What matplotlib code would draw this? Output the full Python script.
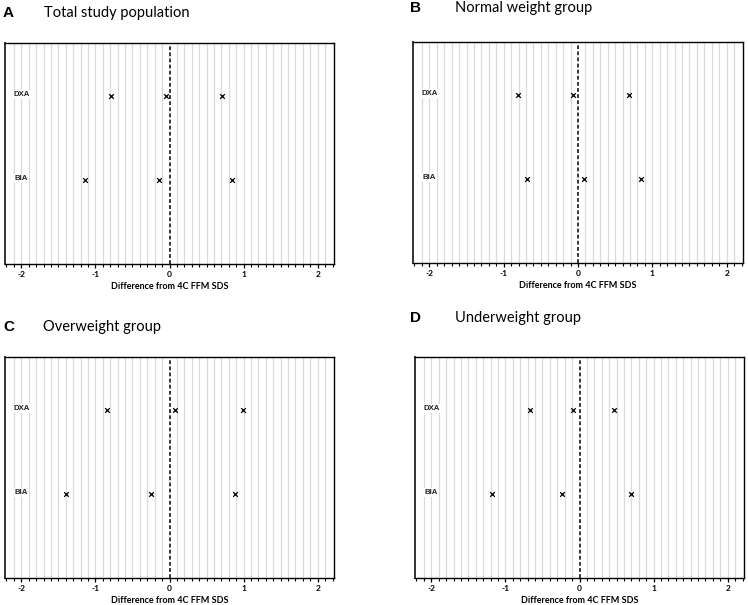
import matplotlib
matplotlib.use("Agg")
import matplotlib.pyplot as plt
import numpy as np

letters = ["A", "B", "C", "D"]
titles = ["Total study population", "Normal weight group", "Overweight group", "Underweight group"]
methods = ["DXA", "BIA"]
dxa_values = [[-0.79, -0.045, 0.71], [-0.81, -0.07, 0.68], [-0.84, 0.07, 0.99], [-0.67, -0.09, 0.47]]
bia_values = [[-1.14, -0.14, 0.85], [-0.69, 0.08, 0.85], [-1.40, -0.25, 0.89], [-1.18, -0.24, 0.69]]
xticks = [-2, -1, 0, 1, 2]

W, H = 748, 605
fig = plt.figure(figsize=(W / 100, H / 100), dpi=100)
fig.patch.set_facecolor("white")

# axes boxes in pixels: left, top, right, bottom
boxes = [(5, 43, 334, 264), (413, 42, 743, 263), (5, 357, 334, 578), (415, 357, 744, 578)]
letter_pos = [(3, 13), (410, 8), (3, 327), (410, 318)]
title_pos = [(44, 13), (455, 8), (43, 327), (455, 318)]

font = "Lato"
y_pos = {"DXA": 2.0, "BIA": 1.0}

for i in range(4):
    l, t, r, b = boxes[i]
    ax = fig.add_axes([l / W, 1 - b / H, (r - l) / W, (b - t) / H])
    ax.set_xlim(-2.22, 2.22)
    ax.set_ylim(0, 2.63)
    for g in np.arange(-21, 22) / 10:
        if abs(g) < 1e-9:
            continue
        ax.axvline(g, color="#dadada", lw=0.9, zorder=0)
    ax.axvline(0, color="black", lw=1.1, ls=(0, (2.5, 1.5)), zorder=2)
    for m, vals in zip(methods, [dxa_values[i], bia_values[i]]):
        ax.scatter(vals, [y_pos[m]] * len(vals), marker="x", s=11, color="black", lw=0.9, zorder=3)
        ax.text(-2.0, y_pos[m] + 0.02, m, ha="center", va="center", fontsize=5.6,
                family="Liberation Sans", fontweight="bold", color="#222222",
                bbox=dict(facecolor="white", edgecolor="none", pad=0.8), zorder=4)
    ax.set_yticks([])
    ax.set_xticks(xticks)
    ax.set_xticklabels([str(x) for x in xticks], fontsize=6, family=font, fontweight="bold")
    ax.set_xticks(np.arange(-22, 23) / 10, minor=True)
    ax.tick_params(axis="x", which="major", length=3, width=0.9, pad=2)
    ax.tick_params(axis="x", which="minor", length=2, width=0.8)
    for s in ax.spines.values():
        s.set_linewidth(1.0)
        s.set_color("black")
    ax.spines["left"].set_linewidth(1.4)
    ax.spines["left"].set_color("#333333")
    ax.set_xlabel("Difference from 4C FFM SDS", fontsize=6.5, family=font, fontweight="bold",
                  labelpad=3)
    lx, ly = letter_pos[i]
    fig.text(lx / W, 1 - ly / H, letters[i], fontsize=11, fontweight="bold", family="Liberation Sans",
             ha="left", va="center")
    tx, ty = title_pos[i]
    fig.text(tx / W, 1 - ty / H, titles[i], fontsize=10.5, family=font, ha="left", va="center")

fig.savefig("out.png", dpi=100)
